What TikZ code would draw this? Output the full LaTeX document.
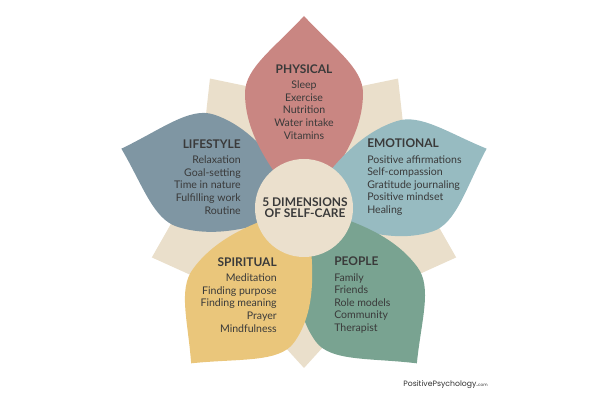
\documentclass[tikz,border=0pt]{standalone}
\usepackage{fontspec}
\setmainfont{Lato}
\newfontfamily\logofont{Poppins}
\definecolor{starbeige}{HTML}{EADFCB}
\definecolor{hubbeige}{HTML}{EBE0CD}
\definecolor{physicalred}{HTML}{C98682}
\definecolor{lifestyleblue}{HTML}{7F96A3}
\definecolor{emotionalteal}{HTML}{97BBC1}
\definecolor{peoplegreen}{HTML}{79A391}
\definecolor{spiritualyellow}{HTML}{EAC67B}
\definecolor{textgrey}{HTML}{3A3A3A}
\def\petal[#1](#2)(#3:#4){\fill[#1, shift={(304,192)}, rotate=#2] (25,-0.37*#3) .. controls (50,-0.68*#3) and (80,-#3) .. (115,-#3) .. controls (140,-#3) and (160,-0.5*#3) .. (192,0) .. controls (160,0.5*#4) and (140,#4) .. (115,#4) .. controls (80,#4) and (50,0.68*#4) .. (25,0.37*#4) -- cycle;}
\def\titlefont{\fontsize{8.5}{10}\selectfont\bfseries}

\begin{document}
\begin{tikzpicture}[x=0.025cm, y=0.025cm]
		%%%%% START %%%%%
		\useasboundingbox (0,0) rectangle (600,400);
		
		\fill[starbeige, shift={(304,192)}] (126:160) -- (90:110) -- (54:160) -- (18:110) -- (-18:160) -- (-54:110) -- (-90:160) -- (-126:110) -- (198:160) -- (162:110) -- cycle;
		
		\petal[lifestyleblue](162)(61:57)
		\petal[physicalred](90)(59:59)
		\petal[emotionalteal](18)(62:54)
		\petal[peoplegreen](-54)(69:57)
		\petal[spiritualyellow](-126)(54:71)
		
		\fill[hubbeige] (304,192) circle (49);
		
		\node[textgrey, align=center, inner sep=0, font=\fontsize{7.5}{8.9}\selectfont] (physical) at (304,298) {{\titlefont PHYSICAL}\\[2pt]Sleep\\Exercise\\Nutrition\\Water intake\\Vitamins};
		\node[textgrey, align=right, anchor=east, inner sep=0, font=\fontsize{7.5}{8.9}\selectfont] (lifestyle) at (241,223) {{\titlefont LIFESTYLE}\\[2pt]Relaxation\\Goal-setting\\Time in nature\\Fulfilling work\\Routine};
		\node[textgrey, align=left, anchor=west, inner sep=0, font=\fontsize{7.5}{8.9}\selectfont] (emotional) at (367,223) {{\titlefont EMOTIONAL}\\[2pt]Positive affirmations\\Self-compassion\\Gratitude journaling\\Positive mindset\\Healing};
		\node[textgrey, align=right, anchor=east, inner sep=0, font=\fontsize{7.5}{8.9}\selectfont] (spiritual) at (277,105) {{\titlefont SPIRITUAL}\\[2pt]Meditation\\Finding purpose\\Finding meaning\\Prayer\\Mindfulness};
		\node[textgrey, align=left, anchor=west, inner sep=0, font=\fontsize{7.5}{8.9}\selectfont] (people) at (334,105) {{\titlefont PEOPLE}\\[2pt]Family\\Friends\\Role models\\Community\\Therapist};
		
		\node[textgrey, align=center, font=\fontsize{8.5}{8}\selectfont\bfseries] (hub) at (305,192) {5 DIMENSIONS\\OF SELF-CARE};
		
		\node[black!80, anchor=east, inner sep=0, font=\logofont\fontsize{5.5}{6}\selectfont] (logo) at (488,15) {PositivePsychology.{\fontsize{3}{3}\selectfont com}};
		
		%%%%% END %%%%%
	\end{tikzpicture}
\end{document}
